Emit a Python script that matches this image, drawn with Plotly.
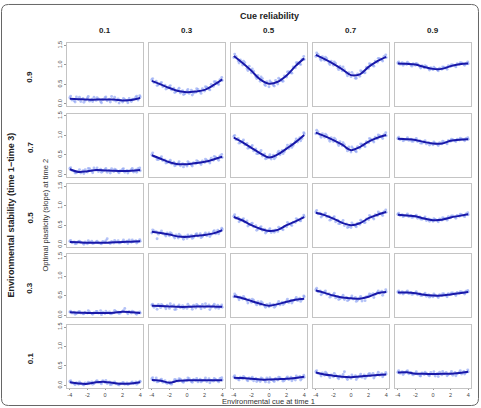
import plotly.graph_objects as go

W, H = 481, 408

CUE_REL = ["0.1", "0.3", "0.5", "0.7", "0.9"]
STABILITY = ["0.9", "0.7", "0.5", "0.3", "0.1"]
X_TICKS = [-4, -2, 0, 2, 4]
Y_TICKS = [0, 0.5, 1.0, 1.5]
Y_TICKTEXT = ["0.0", "0.5", "1.0", "1.5"]

LINE_X = [-4, -3, -2, -1, 0, 1, 2, 3, 4]
X_PTS = [-4.0, -3.75, -3.5, -3.25, -3.0, -2.75, -2.5, -2.25, -2.0, -1.75, -1.5,
         -1.25, -1.0, -0.75, -0.5, -0.25, 0.0, 0.25, 0.5, 0.75, 1.0, 1.25, 1.5,
         1.75, 2.0, 2.25, 2.5, 2.75, 3.0, 3.25, 3.5, 3.75, 4.0]
X_PTS2 = [-3.9, -3.4, -2.9, -2.4, -1.9, -1.4, -0.9, -0.4, 0.1, 0.6, 1.1, 1.6,
          2.1, 2.6, 3.1, 3.6, 3.95]

# smoothed curves, one row per stability level, one list per cue reliability
LINE_S09 = [
    [0.13, 0.12, 0.11, 0.11, 0.11, 0.11, 0.09, 0.10, 0.15],
    [0.59, 0.50, 0.41, 0.33, 0.30, 0.32, 0.36, 0.48, 0.63],
    [1.23, 1.05, 0.85, 0.63, 0.52, 0.57, 0.73, 0.97, 1.17],
    [1.26, 1.15, 1.03, 0.89, 0.74, 0.76, 0.95, 1.10, 1.21],
    [1.04, 1.03, 1.01, 0.95, 0.90, 0.90, 0.97, 1.02, 1.04],
]
LINE_S07 = [
    [0.13, 0.06, 0.08, 0.11, 0.10, 0.09, 0.085, 0.09, 0.11],
    [0.49, 0.40, 0.31, 0.26, 0.26, 0.29, 0.32, 0.38, 0.45],
    [0.94, 0.82, 0.68, 0.54, 0.43, 0.51, 0.66, 0.82, 1.01],
    [1.07, 0.98, 0.88, 0.76, 0.62, 0.70, 0.84, 0.94, 1.01],
    [0.91, 0.90, 0.88, 0.83, 0.79, 0.79, 0.86, 0.89, 0.90],
]
LINE_S05 = [
    [0.07, 0.06, 0.05, 0.05, 0.05, 0.06, 0.07, 0.075, 0.085],
    [0.33, 0.30, 0.26, 0.21, 0.20, 0.23, 0.25, 0.29, 0.37],
    [0.71, 0.62, 0.50, 0.41, 0.35, 0.38, 0.50, 0.60, 0.71],
    [0.82, 0.76, 0.67, 0.56, 0.50, 0.55, 0.68, 0.77, 0.84],
    [0.77, 0.75, 0.73, 0.67, 0.63, 0.64, 0.70, 0.74, 0.78],
]
LINE_S03 = [
    [0.07, 0.06, 0.055, 0.05, 0.05, 0.06, 0.085, 0.07, 0.05],
    [0.24, 0.23, 0.22, 0.21, 0.21, 0.22, 0.22, 0.22, 0.21],
    [0.48, 0.43, 0.36, 0.29, 0.24, 0.28, 0.34, 0.39, 0.42],
    [0.63, 0.57, 0.50, 0.45, 0.43, 0.42, 0.47, 0.56, 0.59],
    [0.58, 0.58, 0.56, 0.52, 0.50, 0.50, 0.53, 0.56, 0.59],
]
LINE_S01 = [
    [0.08, 0.05, 0.04, 0.08, 0.09, 0.06, 0.04, 0.05, 0.08],
    [0.14, 0.12, 0.07, 0.12, 0.13, 0.13, 0.13, 0.13, 0.13],
    [0.20, 0.19, 0.17, 0.15, 0.15, 0.16, 0.17, 0.19, 0.22],
    [0.33, 0.28, 0.25, 0.22, 0.21, 0.23, 0.25, 0.27, 0.28],
    [0.33, 0.34, 0.30, 0.30, 0.29, 0.30, 0.30, 0.32, 0.35],
]

# simulated points (first set, at X_PTS)
PTS_S09 = [
    [.16,.10,.08,.18,.12,.06,.14,.09,.15,.07,.12,.17,.09,.13,.06,.11,.16,.08,.12,.19,.10,.07,.13,.09,.05,.11,.08,.14,.06,.12,.17,.10,.18],
    [.62,.55,.58,.49,.53,.44,.48,.40,.44,.36,.40,.31,.36,.28,.34,.26,.33,.27,.35,.28,.30,.37,.31,.39,.33,.43,.38,.50,.45,.57,.52,.62,.60],
    [1.19,1.22,1.10,1.13,1.00,1.06,.91,.97,.80,.84,.70,.73,.58,.65,.50,.57,.44,.55,.48,.60,.51,.63,.59,.72,.69,.83,.80,.95,.93,1.06,1.03,1.15,1.14],
    [1.22,1.27,1.16,1.21,1.12,1.16,1.05,1.10,.99,1.04,.92,.97,.85,.88,.78,.80,.70,.75,.66,.77,.71,.83,.80,.94,.91,1.02,.99,1.10,1.07,1.16,1.13,1.22,1.19],
    [1.05,1.02,1.06,1.03,1.01,1.04,1.00,1.03,.99,1.02,.96,.98,.93,.96,.91,.93,.88,.91,.87,.92,.89,.94,.93,.98,.96,1.00,.99,1.03,1.01,1.05,1.02,1.04,1.03],
]
PTS_S07 = [
    [.15,.10,.08,.04,.07,.03,.09,.12,.06,.14,.09,.16,.11,.07,.13,.08,.12,.05,.10,.14,.07,.11,.06,.09,.13,.05,.10,.08,.12,.06,.11,.14,.09],
    [.50,.46,.44,.38,.42,.35,.37,.30,.33,.27,.31,.24,.28,.22,.27,.25,.21,.29,.24,.30,.27,.33,.29,.34,.30,.36,.33,.41,.36,.44,.40,.47,.43],
    [.97,.89,.92,.81,.85,.76,.79,.68,.71,.60,.65,.53,.57,.47,.52,.41,.46,.39,.49,.44,.55,.50,.61,.58,.68,.66,.77,.74,.85,.83,.94,.92,1.04],
    [1.04,1.09,1.00,1.04,.95,.99,.90,.94,.84,.89,.79,.84,.73,.76,.66,.70,.57,.66,.60,.71,.67,.77,.73,.84,.81,.90,.86,.95,.91,.99,.96,1.02,.99],
    [.92,.89,.91,.88,.90,.87,.90,.85,.88,.84,.86,.80,.84,.78,.82,.79,.76,.80,.77,.81,.78,.83,.82,.87,.85,.89,.86,.90,.88,.91,.89,.92,.90],
]
PTS_S05 = [
    [.09,.05,.07,.03,.08,.06,.04,.07,.02,.06,.09,.04,.07,.05,.03,.08,.06,.15,.05,.08,.04,.07,.10,.05,.08,.06,.09,.12,.06,.08,.10,.07,.09],
    [.30,.35,.33,.27,.31,.29,.25,.30,.23,.28,.21,.25,.17,.23,.19,.22,.16,.21,.24,.19,.26,.22,.28,.21,.27,.23,.30,.26,.33,.28,.37,.34,.39],
    [.73,.68,.70,.62,.65,.58,.61,.51,.54,.46,.49,.40,.44,.37,.40,.33,.37,.31,.36,.38,.34,.42,.40,.47,.46,.53,.51,.58,.57,.64,.62,.69,.72],
    [.84,.79,.81,.74,.78,.71,.73,.65,.69,.59,.63,.54,.58,.49,.53,.46,.44,.51,.48,.55,.52,.60,.57,.66,.64,.72,.69,.77,.74,.81,.78,.85,.83],
    [.78,.75,.77,.74,.76,.72,.75,.71,.73,.68,.71,.65,.68,.62,.66,.64,.60,.65,.62,.66,.63,.68,.67,.72,.69,.74,.71,.75,.73,.77,.74,.79,.77],
]
PTS_S03 = [
    [.08,.05,.07,.04,.08,.05,.03,.07,.05,.08,.04,.06,.09,.05,.11,.07,.04,.06,.08,.03,.06,.09,.07,.05,.10,.17,.07,.09,.05,.08,.04,.06,.05],
    [.26,.20,.23,.27,.19,.24,.21,.25,.17,.23,.26,.15,.22,.19,.24,.20,.17,.23,.21,.25,.18,.24,.22,.27,.19,.23,.26,.20,.24,.18,.25,.21,.20],
    [.47,.50,.44,.46,.41,.43,.37,.40,.33,.38,.30,.34,.26,.31,.24,.27,.21,.25,.27,.23,.30,.26,.33,.30,.36,.32,.38,.36,.41,.37,.43,.40,.47],
    [.65,.60,.62,.56,.59,.53,.55,.49,.52,.44,.48,.42,.46,.40,.45,.39,.44,.41,.45,.38,.43,.36,.44,.47,.49,.52,.55,.53,.58,.56,.61,.57,.60],
    [.59,.56,.60,.57,.59,.55,.58,.54,.57,.52,.55,.50,.53,.48,.52,.49,.47,.51,.48,.52,.50,.54,.51,.55,.53,.57,.54,.58,.56,.59,.57,.61,.60],
]
PTS_S01 = [
    [.10,.06,.04,.07,.03,.05,.02,.06,.04,.07,.09,.05,.11,.08,.06,.12,.08,.05,.09,.03,.06,.04,.02,.05,.07,.03,.06,.04,.07,.05,.09,.06,.10],
    [.17,.12,.19,.10,.14,.08,.12,.05,.09,.03,.10,.14,.11,.16,.09,.14,.12,.17,.10,.15,.13,.09,.16,.12,.14,.10,.17,.13,.11,.15,.12,.18,.14],
    [.22,.18,.16,.21,.17,.20,.14,.19,.16,.12,.18,.14,.10,.17,.13,.19,.08,.15,.12,.18,.14,.20,.16,.13,.19,.15,.21,.17,.14,.20,.23,.18,.21],
    [.35,.31,.29,.32,.26,.30,.24,.27,.22,.26,.20,.24,.21,.35,.19,.23,.18,.22,.25,.20,.24,.21,.27,.23,.29,.26,.31,.24,.28,.26,.30,.27,.29],
    [.34,.31,.35,.32,.36,.30,.33,.27,.31,.29,.25,.32,.28,.31,.26,.33,.29,.24,.31,.34,.27,.30,.33,.28,.31,.26,.33,.30,.34,.29,.36,.33,.35],
]

# simulated points (second set, at X_PTS2)
PTS2_S09 = [
    [.20,.05,.17,.04,.19,.06,.16,.03,.18,.05,.17,.02,.14,.03,.12,.20,.21],
    [.65,.47,.55,.38,.47,.29,.40,.24,.37,.23,.39,.27,.44,.36,.57,.50,.68],
    [1.28,1.05,1.10,.86,.90,.65,.69,.47,.59,.46,.66,.58,.82,.79,1.06,1.01,1.22],
    [1.31,1.12,1.20,1.01,1.08,.88,.95,.72,.81,.66,.85,.80,1.03,.97,1.17,1.10,1.26],
    [1.08,.99,1.07,.97,1.04,.92,.98,.87,.94,.85,.95,.89,1.01,.95,1.06,.99,1.08],
]
PTS2_S07 = [
    [.17,.03,.12,.02,.15,.04,.16,.05,.15,.03,.13,.04,.14,.03,.15,.05,.16],
    [.55,.38,.45,.29,.36,.22,.32,.19,.32,.21,.35,.25,.39,.29,.46,.36,.51],
    [1.00,.80,.88,.67,.74,.53,.61,.40,.50,.40,.59,.53,.75,.69,.91,.86,1.07],
    [1.13,.95,1.03,.85,.93,.74,.81,.60,.70,.58,.78,.71,.92,.83,1.01,.92,1.07],
    [.95,.86,.94,.85,.92,.80,.86,.75,.83,.74,.85,.78,.90,.84,.93,.86,.94],
]
PTS2_S05 = [
    [.11,.02,.09,.01,.10,.03,.09,.02,.10,.03,.11,.04,.12,.03,.12,.04,.13],
    [.38,.15,.35,.22,.31,.17,.27,.14,.25,.16,.28,.18,.30,.21,.36,.28,.42],
    [.77,.59,.67,.48,.55,.37,.46,.30,.41,.32,.45,.38,.57,.49,.67,.61,.76],
    [.88,.71,.81,.63,.72,.54,.62,.44,.56,.46,.63,.57,.75,.66,.84,.75,.89],
    [.81,.72,.79,.70,.76,.66,.71,.60,.67,.59,.69,.63,.74,.68,.78,.72,.82],
]
PTS2_S03 = [
    [.10,.02,.09,.03,.11,.02,.09,.01,.10,.03,.12,.04,.11,.03,.10,.02,.08],
    [.28,.15,.27,.16,.29,.14,.26,.17,.28,.15,.27,.16,.29,.14,.28,.17,.26],
    [.54,.39,.48,.31,.41,.26,.34,.20,.29,.20,.35,.27,.41,.31,.45,.35,.49],
    [.69,.52,.62,.46,.56,.40,.51,.37,.49,.35,.48,.37,.54,.45,.62,.51,.65],
    [.62,.54,.62,.53,.60,.50,.56,.46,.54,.45,.55,.47,.57,.50,.60,.54,.63],
]
PTS2_S01 = [
    [.12,.02,.09,.01,.08,.03,.12,.04,.13,.02,.09,.01,.07,.02,.09,.03,.11],
    [.20,.09,.16,.07,.04,.15,.17,.08,.19,.08,.18,.09,.19,.07,.18,.09,.20],
    [.25,.14,.23,.12,.21,.10,.19,.09,.20,.10,.21,.11,.22,.12,.24,.14,.26],
    [.38,.24,.34,.20,.31,.17,.28,.15,.27,.15,.29,.18,.31,.19,.34,.22,.33],
    [.38,.28,.38,.29,.35,.24,.34,.25,.35,.23,.36,.25,.36,.25,.38,.29,.40],
]

LINES = [LINE_S09, LINE_S07, LINE_S05, LINE_S03, LINE_S01]
PTS = [PTS_S09, PTS_S07, PTS_S05, PTS_S03, PTS_S01]
PTS2 = [PTS2_S09, PTS2_S07, PTS2_S05, PTS2_S03, PTS2_S01]

for grid in PTS:
    for ys in grid:
        assert len(ys) == len(X_PTS), len(ys)
for grid in PTS2:
    for ys in grid:
        assert len(ys) == len(X_PTS2), len(ys)

COL_LEFT = [67 + 82 * c for c in range(5)]
PANEL_W = 76
ROW_TOP = [41.5 + 70.9 * r for r in range(5)]
PANEL_H = 63.5

FONT = "Liberation Sans, Arial, sans-serif"
PT_COLOR = "rgba(140,162,242,0.65)"

fig = go.Figure()
layout = {}
for r in range(5):
    for c in range(5):
        i = r * 5 + c + 1
        sfx = "" if i == 1 else str(i)
        fig.add_trace(go.Scatter(
            x=X_PTS + X_PTS2, y=PTS[r][c] + PTS2[r][c], mode="markers",
            marker=dict(size=2.9, color=PT_COLOR, line=dict(width=0)),
            xaxis="x" + sfx, yaxis="y" + sfx, showlegend=False, hoverinfo="skip"))
        fig.add_trace(go.Scatter(
            x=LINE_X, y=LINES[r][c], mode="lines",
            line=dict(color="#1818a8", width=2, shape="spline", smoothing=1.0),
            xaxis="x" + sfx, yaxis="y" + sfx, showlegend=False, hoverinfo="skip"))
        l = COL_LEFT[c]
        t = ROW_TOP[r]
        layout["xaxis" + sfx] = dict(
            domain=[l / W, (l + PANEL_W) / W], range=[-4.32, 4.32], anchor="y" + sfx,
            showgrid=False, zeroline=False, showline=True, mirror=True,
            linecolor="#c4c4c4", linewidth=1.2,
            tickvals=X_TICKS, ticktext=[str(v) for v in X_TICKS],
            showticklabels=(r == 4), ticks="outside" if r == 4 else "",
            ticklen=1.5, tickcolor="#999", tickwidth=0.8,
            tickfont=dict(size=5.5, color="#444", family=FONT), fixedrange=True)
        layout["yaxis" + sfx] = dict(
            domain=[1 - (t + PANEL_H) / H, 1 - t / H], range=[-0.06, 1.56], anchor="x" + sfx,
            showgrid=False, zeroline=False, showline=True, mirror=True,
            linecolor="#c4c4c4", linewidth=1.2,
            tickvals=Y_TICKS, ticktext=Y_TICKTEXT,
            showticklabels=(c == 0), ticks="outside" if c == 0 else "",
            ticklen=2, tickcolor="#999", tickwidth=0.8, tickangle=-90,
            tickfont=dict(size=5.5, color="#444", family=FONT), fixedrange=True)


def A(text, x, y, size, angle=0, color="#222"):
    return dict(text=text, x=x / W, y=1 - y / H, xref="paper", yref="paper",
                xanchor="center", yanchor="middle", showarrow=False, textangle=angle,
                font=dict(size=size, color=color, family=FONT))


mid_y = ROW_TOP[2] + PANEL_H / 2
ann = [A("<b>Cue reliability</b>", 269, 14, 9)]
for c, lab in enumerate(CUE_REL):
    ann.append(A("<b>%s</b>" % lab, COL_LEFT[c] + PANEL_W / 2, 29, 8))
for r, lab in enumerate(STABILITY):
    ann.append(A("<b>%s</b>" % lab, 30, ROW_TOP[r] + PANEL_H / 2 + 2, 8, -90))
ann.append(A("<b>Environmental stability (time 1\u2212time 3)</b>", 11, mid_y, 9, -90))
ann.append(A("Optimal plasticity (slope) at time 2", 45, mid_y, 7.5, -90, "#333"))
ann.append(A("Environmental cue at time 1", 268, 402.5, 7.5, 0, "#333"))


def px(x, y):
    return "%.5f,%.5f" % (x / W, 1 - y / H)


x0, y0, x1, y1, rr = 1.5, 2.5, 478.5, 406.5, 7
path = ("M" + px(x0 + rr, y0) + " L" + px(x1 - rr, y0) + " Q" + px(x1, y0) + " " + px(x1, y0 + rr) +
        " L" + px(x1, y1 - rr) + " Q" + px(x1, y1) + " " + px(x1 - rr, y1) +
        " L" + px(x0 + rr, y1) + " Q" + px(x0, y1) + " " + px(x0, y1 - rr) +
        " L" + px(x0, y0 + rr) + " Q" + px(x0, y0) + " " + px(x0 + rr, y0) + " Z")

fig.update_layout(
    width=W, height=H, margin=dict(l=0, r=0, t=0, b=0),
    paper_bgcolor="white", plot_bgcolor="white",
    annotations=ann,
    shapes=[dict(type="path", path=path, xref="paper", yref="paper",
                 line=dict(color="#666", width=1))],
    **layout)

fig.write_html("out.html", config={"displayModeBar": False})
